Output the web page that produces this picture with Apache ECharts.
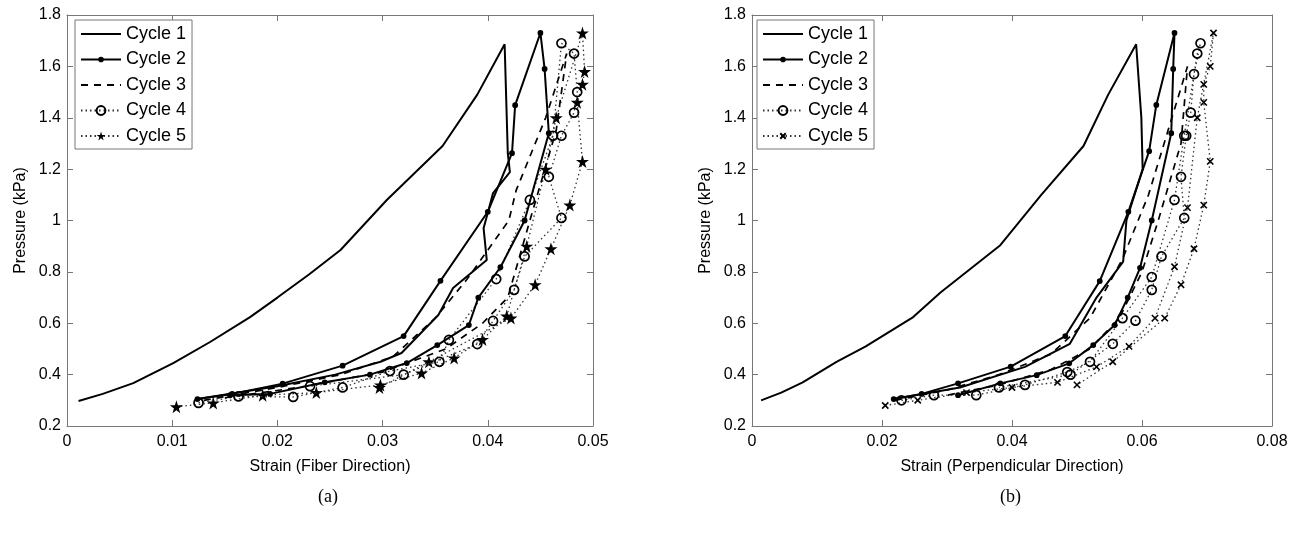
<!DOCTYPE html>
<html>
<head>
<meta charset="utf-8">
<script src="https://cdn.jsdelivr.net/npm/echarts@6/dist/echarts.min.js"></script>
<style>
html,body{margin:0;padding:0;background:#fff;}
#c{width:1303px;height:534px;}
</style>
</head>
<body>
<div id="c"></div>
<script>
// ---------- DATA ----------
const legendNames = ['Cycle 1','Cycle 2','Cycle 3','Cycle 4','Cycle 5'];
const xTicksA = [0, 0.01, 0.02, 0.03, 0.04, 0.05];
const xTicksB = [0, 0.02, 0.04, 0.06, 0.08];
const yTicks = [0.2, 0.4, 0.6, 0.8, 1.0, 1.2, 1.4, 1.6, 1.8];

// (a) fiber direction
const a1 = [[0.0011,0.297],[0.0034,0.325],[0.0063,0.367],[0.0101,0.445],[0.0136,0.527],[0.0174,0.624],[0.020,0.70],[0.023,0.79],[0.026,0.885],[0.0304,1.08],[0.0357,1.29],[0.039,1.49],[0.0416,1.686],
  [0.0419,1.262],[0.0421,1.188],[0.0405,1.107],[0.0400,1.03],[0.0396,0.97],[0.0399,0.846],[0.0367,0.737],[0.0353,0.632],[0.0318,0.484],[0.0298,0.45],[0.0255,0.40],[0.020,0.355],[0.0124,0.305]];
const a2 = [[0.0124,0.305],[0.0157,0.325],[0.0205,0.365],[0.0262,0.435],[0.032,0.55],[0.0355,0.765],[0.040,1.034],[0.0423,1.262],[0.0426,1.449],[0.0450,1.73],[0.0454,1.59],[0.0458,1.34],
  [0.0435,1.0],[0.0412,0.818],[0.0391,0.70],[0.0382,0.593],[0.0352,0.515],[0.0323,0.445],[0.0288,0.40],[0.0245,0.37],[0.0193,0.325],[0.0155,0.32]];
const a3 = [[0.013,0.30],[0.020,0.35],[0.026,0.40],[0.031,0.47],[0.035,0.62],[0.038,0.77],[0.042,1.0],[0.0427,1.118],[0.0455,1.40],[0.0475,1.65],
  [0.0465,1.35],[0.044,1.0],[0.0419,0.70],[0.0395,0.60],[0.036,0.50],[0.030,0.41],[0.022,0.35],[0.015,0.31]];
const a4 = [[0.0125,0.29],[0.0163,0.315],[0.0215,0.313],[0.0262,0.35],[0.0307,0.414],[0.0354,0.45],[0.0363,0.535],[0.0408,0.772],[0.0440,1.08],[0.0462,1.33],[0.047,1.69],
  [0.0482,1.65],[0.0485,1.50],[0.0482,1.42],[0.047,1.33],[0.0458,1.17],[0.047,1.01],[0.0435,0.86],[0.0425,0.73],[0.0405,0.609],[0.039,0.519],[0.032,0.40],[0.0231,0.355]];
const a5 = [[0.0104,0.275],[0.0139,0.29],[0.0186,0.32],[0.0237,0.33],[0.0298,0.36],[0.0337,0.406],[0.0368,0.465],[0.0395,0.537],[0.0418,0.628],[0.0437,0.90],[0.0455,1.20],[0.0465,1.40],[0.049,1.73],
  [0.0492,1.58],[0.049,1.53],[0.0485,1.46],[0.049,1.23],[0.0478,1.06],[0.046,0.89],[0.0445,0.75],[0.0422,0.62],[0.0344,0.45],[0.0297,0.35]];

// (b) perpendicular direction
const b1 = [[0.0014,0.30],[0.0045,0.33],[0.0078,0.37],[0.013,0.45],[0.0175,0.51],[0.0248,0.624],[0.029,0.72],[0.0382,0.904],[0.0445,1.10],[0.051,1.29],[0.0548,1.49],[0.0591,1.686],
  [0.0599,1.40],[0.0601,1.20],[0.0576,1.0],[0.0571,0.84],[0.053,0.70],[0.0489,0.52],[0.042,0.43],[0.032,0.35],[0.0218,0.305]];
const b2 = [[0.0218,0.305],[0.0261,0.325],[0.0317,0.366],[0.0398,0.431],[0.0482,0.55],[0.0535,0.764],[0.0579,1.034],[0.0611,1.27],[0.0622,1.45],[0.065,1.73],[0.0648,1.59],[0.0645,1.34],
  [0.0615,1.0],[0.0597,0.816],[0.0578,0.70],[0.0558,0.593],[0.0525,0.515],[0.0488,0.444],[0.0438,0.398],[0.0382,0.366],[0.0317,0.32]];
const b3 = [[0.022,0.30],[0.030,0.34],[0.038,0.40],[0.046,0.48],[0.052,0.62],[0.057,0.85],[0.061,1.1],[0.064,1.35],[0.067,1.6],
  [0.066,1.3],[0.0625,1.0],[0.060,0.80],[0.0565,0.62],[0.052,0.50],[0.046,0.42],[0.038,0.36],[0.030,0.32]];
const b4 = [[0.023,0.30],[0.028,0.32],[0.0345,0.32],[0.042,0.36],[0.0485,0.41],[0.052,0.45],[0.057,0.62],[0.0615,0.78],[0.065,1.08],[0.0665,1.33],[0.0685,1.65],
  [0.069,1.69],[0.068,1.57],[0.0675,1.42],[0.0668,1.33],[0.066,1.17],[0.0665,1.01],[0.063,0.86],[0.0615,0.73],[0.059,0.61],[0.0555,0.52],[0.049,0.40],[0.038,0.35]];
const b5 = [[0.0205,0.28],[0.0255,0.30],[0.033,0.33],[0.040,0.35],[0.047,0.37],[0.053,0.43],[0.058,0.51],[0.062,0.62],[0.065,0.82],[0.067,1.05],[0.0685,1.40],[0.071,1.73],
  [0.0705,1.60],[0.0695,1.53],[0.0695,1.46],[0.0705,1.23],[0.0695,1.06],[0.068,0.89],[0.066,0.75],[0.0635,0.62],[0.0555,0.45],[0.050,0.36]];

// ---------- CHART ----------
const STAR = 'path://M50,0 L61,35 L98,35 L68,57 L79,91 L50,70 L21,91 L32,57 L2,35 L39,35 Z';
const DOT = 'path://M0,0 M10,10 M1.8,5 A3.2,3.2 0 1 1 8.2,5 A3.2,3.2 0 1 1 1.8,5 Z';
const CROSS = 'path://M-3,-3 M13,13 M0,0 L10,10 M10,0 L0,10';
const chart = echarts.init(document.getElementById('c'), null, {renderer:'canvas'});
const FONT = 'Liberation Sans';
const AXC = '#777';

function mkX(gi, ticks, name, pos) {
  const max = ticks[ticks.length-1];
  const iv = ticks[1]-ticks[0];
  return {
    type:'value', gridIndex:gi, min:0, max:max, interval:iv, position:pos,
    name: pos==='bottom'? name : '', nameLocation:'middle', nameGap:33,
    nameTextStyle:{fontFamily:FONT, fontSize:16, color:'#000'},
    axisLine:{show:true, onZero:false, lineStyle:{color:AXC, width:1}},
    axisTick:{show:true, inside:true, length:6, lineStyle:{color:AXC}},
    axisLabel:{show: pos==='bottom', fontFamily:FONT, fontSize:16, color:'#000', margin:8,
      formatter: v => String(+v.toFixed(3))},
    splitLine:{show:false}
  };
}
function mkY(gi, pos) {
  return {
    type:'value', gridIndex:gi, min:0.2, max:1.8, interval:0.2, position:pos,
    name: pos==='left' ? 'Pressure (kPa)' : '', nameLocation:'middle', nameGap:38,
    nameTextStyle:{fontFamily:FONT, fontSize:16, color:'#000'},
    axisLine:{show:true, onZero:false, lineStyle:{color:AXC, width:1}},
    axisTick:{show:true, inside:true, length:6, lineStyle:{color:AXC}},
    axisLabel:{show: pos==='left', fontFamily:FONT, fontSize:16, color:'#000', margin:6,
      formatter: v => String(+v.toFixed(2))},
    splitLine:{show:false}
  };
}

function mkSeries(gi, data, idx, suffix, c5sym) {
  const base = {type:'line', xAxisIndex:gi*2, yAxisIndex:gi*2, data:data, name:legendNames[idx]+suffix,
    animation:false, silent:true, z: 10-idx};
  const black = '#000';
  const dotted = {color:'#333',width:1.3,type:[1.5,3]};
  if (idx===0) return Object.assign(base,{symbol:'circle', showSymbol:false, lineStyle:{color:black,width:2}, itemStyle:{color:black}});
  if (idx===1) return Object.assign(base,{symbol:DOT, symbolSize:9, lineStyle:{color:black,width:2}, itemStyle:{color:black}});
  if (idx===2) return Object.assign(base,{symbol:'circle', showSymbol:false, lineStyle:{color:black,width:1.7,type:[7,6]}, itemStyle:{color:black}});
  if (idx===3) return Object.assign(base,{symbol:'circle', symbolSize:9, lineStyle:dotted, itemStyle:{color:'rgba(255,255,255,0)', borderColor:black, borderWidth:1.7}});
  if (c5sym==='star') return Object.assign(base,{symbol:STAR, symbolSize:13, lineStyle:dotted, itemStyle:{color:black}});
  return Object.assign(base,{symbol:CROSS, symbolSize:10, lineStyle:dotted, itemStyle:{color:'rgba(0,0,0,0)', borderColor:black, borderWidth:1.6}});
}

const seriesA = [a1,a2,a3,a4,a5].map((d,i)=>mkSeries(0,d,i,'','star'));
const seriesB = [b1,b2,b3,b4,b5].map((d,i)=>mkSeries(1,d,i,' ','cross'));

function mkLegend(left, suffix) {
  return {
    orient:'vertical', left:left, top:20, itemWidth:40, itemHeight:11, itemGap:7.5,
    data: legendNames.map((n,i)=> (i===0||i===2) ? {name:n+suffix, itemStyle:{opacity:0}} : {name:n+suffix}),
    formatter: n => n.trim(),
    textStyle:{fontFamily:FONT, fontSize:18, color:'#000'},
    backgroundColor:'#fff', borderColor:AXC, borderWidth:1, padding:[5,6,4,5],
    selectedMode:false
  };
}

chart.setOption({
  animation:false,
  backgroundColor:'#fff',
  grid:[
    {left:67, top:15, width:526, height:411, show:false},
    {left:752, top:15, width:520, height:411, show:false}
  ],
  xAxis:[mkX(0,xTicksA,'Strain (Fiber Direction)','bottom'), mkX(0,xTicksA,'','top'),
         mkX(1,xTicksB,'Strain (Perpendicular Direction)','bottom'), mkX(1,xTicksB,'','top')],
  yAxis:[mkY(0,'left'), mkY(0,'right'), mkY(1,'left'), mkY(1,'right')],
  legend:[mkLegend(75,''), mkLegend(757,' ')],
  series: seriesA.concat(seriesB),
  graphic:[
    {type:'text', left:330-12, top:488, style:{text:'(a)', font:'18px "Liberation Serif"', fill:'#000'}},
    {type:'text', left:1012-12, top:488, style:{text:'(b)', font:'18px "Liberation Serif"', fill:'#000'}}
  ]
});
</script>
</body>
</html>
